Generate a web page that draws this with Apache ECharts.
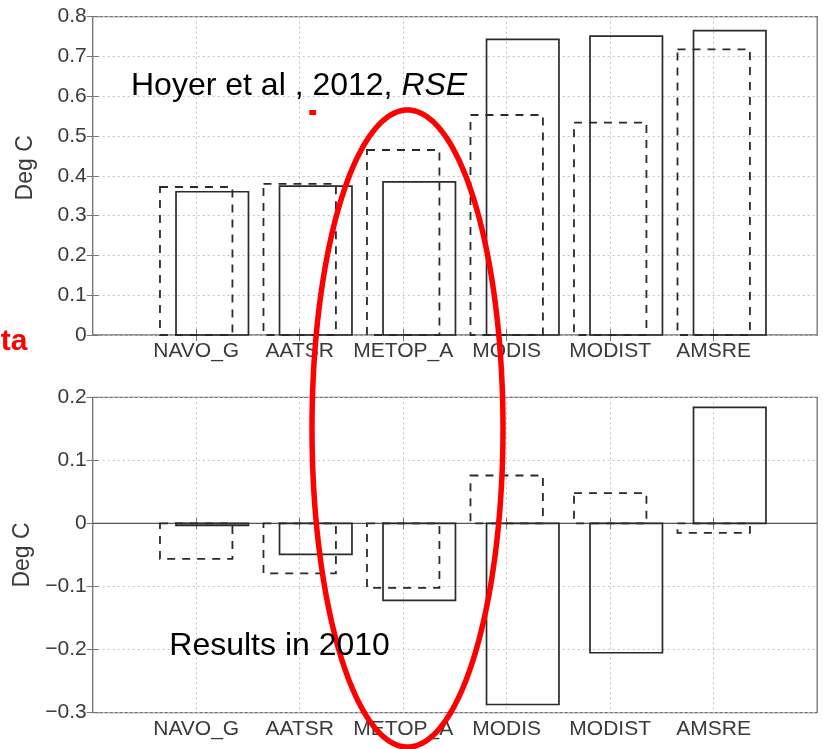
<!DOCTYPE html>
<html>
<head>
<meta charset="utf-8">
<script src="https://cdn.jsdelivr.net/npm/echarts@6/dist/echarts.min.js"></script>
<style>
html,body{margin:0;padding:0;background:#fff;}
#chart{width:823px;height:749px;}
</style>
</head>
<body>
<div id="chart"></div>
<script>
// ---- data ----
var categories = ['NAVO_G', 'AATSR', 'METOP_A', 'MODIS', 'MODIST', 'AMSRE'];
// top panel (Deg C)
var topDashed = [0.372, 0.380, 0.465, 0.553, 0.534, 0.718];
var topSolid  = [0.360, 0.374, 0.385, 0.743, 0.751, 0.765];
// bottom panel (Deg C)
var botDashed = [-0.056, -0.079, -0.102, 0.076, 0.048, -0.015];
var botSolid  = [-0.003, -0.049, -0.122, -0.287, -0.205, 0.184];
var topTicks = {min: 0, max: 0.8, interval: 0.1};
var botTicks = {min: -0.3, max: 0.2, interval: 0.1};
var catPositions = [1, 2, 3, 4, 5, 6];

var FONT = "'Liberation Sans', Arial, sans-serif";
var TXT = '#3a3a3a';

function pairs(vals) { return vals.map(function (v, i) { return [i + 1, v]; }); }

function barRenderer(offset, dashed) {
  return function (params, api) {
    var x = api.value(0), v = api.value(1);
    var p0 = api.coord([x + offset - 0.35, 0]);
    var p1 = api.coord([x + offset + 0.35, v]);
    return {
      type: 'rect',
      shape: { x: p0[0], y: Math.min(p0[1], p1[1]), width: p1[0] - p0[0], height: Math.abs(p1[1] - p0[1]) },
      style: { fill: 'none', stroke: '#2a2a2a', lineWidth: dashed ? 1.8 : 1.7, lineDash: dashed ? [8, 7] : null }
    };
  };
}

function yFmt(v) {
  if (Math.abs(v) < 1e-9) return '0';
  return (Math.round(v * 10) / 10).toFixed(1).replace('-', '\u2212');
}

var gridLine = { show: true, lineStyle: { color: '#c4c4c4', type: [2, 3], width: 1 } };

function xMain(gi) {
  return {
    type: 'value', gridIndex: gi, min: 0, max: 7, interval: 1, position: 'bottom',
    axisLine: { show: false },
    axisTick: { show: true, inside: true, length: 6, customValues: catPositions, lineStyle: { color: '#777' } },
    axisLabel: {
      show: true, margin: 6, color: TXT, fontFamily: FONT, fontSize: 21,
      formatter: function (v) { return categories[v - 1] || ''; }
    },
    splitLine: gridLine
  };
}
function xTop(gi) {
  return {
    type: 'value', gridIndex: gi, min: 0, max: 7, interval: 1, position: 'top',
    axisLine: { show: false },
    axisTick: { show: true, inside: true, length: 6, customValues: catPositions, lineStyle: { color: '#777' } },
    axisLabel: { show: false }, splitLine: { show: false }
  };
}
function yMain(gi, t, pad) {
  return {
    type: 'value', gridIndex: gi, min: t.min, max: t.max, interval: t.interval, position: 'left',
    name: 'Deg C', nameLocation: 'middle', nameGap: 56,
    nameTextStyle: { color: TXT, fontFamily: FONT, fontSize: 23, padding: pad },
    axisLine: { show: false },
    axisTick: { show: true, inside: true, length: 6, lineStyle: { color: '#777' } },
    axisLabel: { show: true, margin: 6, color: TXT, fontFamily: FONT, fontSize: 21, formatter: yFmt },
    splitLine: gridLine
  };
}
function yRight(gi, t) {
  return {
    type: 'value', gridIndex: gi, min: t.min, max: t.max, interval: t.interval, position: 'right',
    axisLine: { show: false },
    axisTick: { show: true, inside: true, length: 6, lineStyle: { color: '#777' } },
    axisLabel: { show: false }, splitLine: { show: false }
  };
}

// ellipse outline (annotation)
var ell = [];
for (var k = 0; k < 240; k++) {
  var a = k / 240 * Math.PI * 2;
  ell.push([407.5 + 95.5 * Math.cos(a), 428.5 + 318.5 * Math.sin(a)]);
}

var chart = echarts.init(document.getElementById('chart'), null, { renderer: 'canvas' });
chart.setOption({
  animation: false,
  backgroundColor: '#fff',
  grid: [
    { left: 92.7, right: 5.8, top: 16.7, height: 318.3, show: true, borderColor: '#707070', borderWidth: 1.3, backgroundColor: 'transparent' },
    { left: 92.7, right: 5.8, top: 397.3, height: 315.4, show: true, borderColor: '#707070', borderWidth: 1.3, backgroundColor: 'transparent' }
  ],
  xAxis: [xMain(0), xTop(0), xMain(1), xTop(1)],
  yAxis: [yMain(0, topTicks, [0, 0, 0, 16]), yRight(0, topTicks), yMain(1, botTicks, [0, 0, 0, 0]), yRight(1, botTicks)],
  series: [
    { type: 'custom', xAxisIndex: 0, yAxisIndex: 0, renderItem: barRenderer(0, true), data: pairs(topDashed), z: 3 },
    { type: 'custom', xAxisIndex: 0, yAxisIndex: 0, renderItem: barRenderer(0.155, false), data: pairs(topSolid), z: 4 },
    { type: 'line', xAxisIndex: 2, yAxisIndex: 2, data: [[0, 0], [7, 0]], showSymbol: false, silent: true,
      lineStyle: { color: '#555', width: 1.3 }, z: 2 },
    { type: 'custom', xAxisIndex: 2, yAxisIndex: 2, renderItem: barRenderer(0, true), data: pairs(botDashed), z: 3 },
    { type: 'custom', xAxisIndex: 2, yAxisIndex: 2, renderItem: barRenderer(0.155, false), data: pairs(botSolid), z: 4 }
  ],
  graphic: [
    { type: 'polygon', z: 100, shape: { points: ell }, style: { fill: 'none', stroke: '#ff0000', lineWidth: 5.5 } },
    { type: 'rect', z: 100, shape: { x: 309.3, y: 110, width: 6.7, height: 5 }, style: { fill: '#ff0000' } },
    { type: 'text', z: 110, x: 131, y: 86.3,
      style: { text: '{n|Hoyer et al , 2012, }{i|RSE}', verticalAlign: 'middle', align: 'left',
        rich: { n: { fontFamily: FONT, fontSize: 32, fill: '#000' }, i: { fontFamily: FONT, fontSize: 32, fontStyle: 'italic', fill: '#000' } } } },
    { type: 'text', z: 110, x: 169.3, y: 646.4,
      style: { text: 'Results in 2010', fontFamily: FONT, fontSize: 32, fill: '#000', verticalAlign: 'middle', align: 'left' } },
    { type: 'text', z: 110, x: 27.5, y: 341.6,
      style: { text: 'ta', fontFamily: FONT, fontSize: 30, fontWeight: 'bold', fill: '#ff0000', verticalAlign: 'middle', align: 'right' } }
  ]
});
</script>
</body>
</html>
